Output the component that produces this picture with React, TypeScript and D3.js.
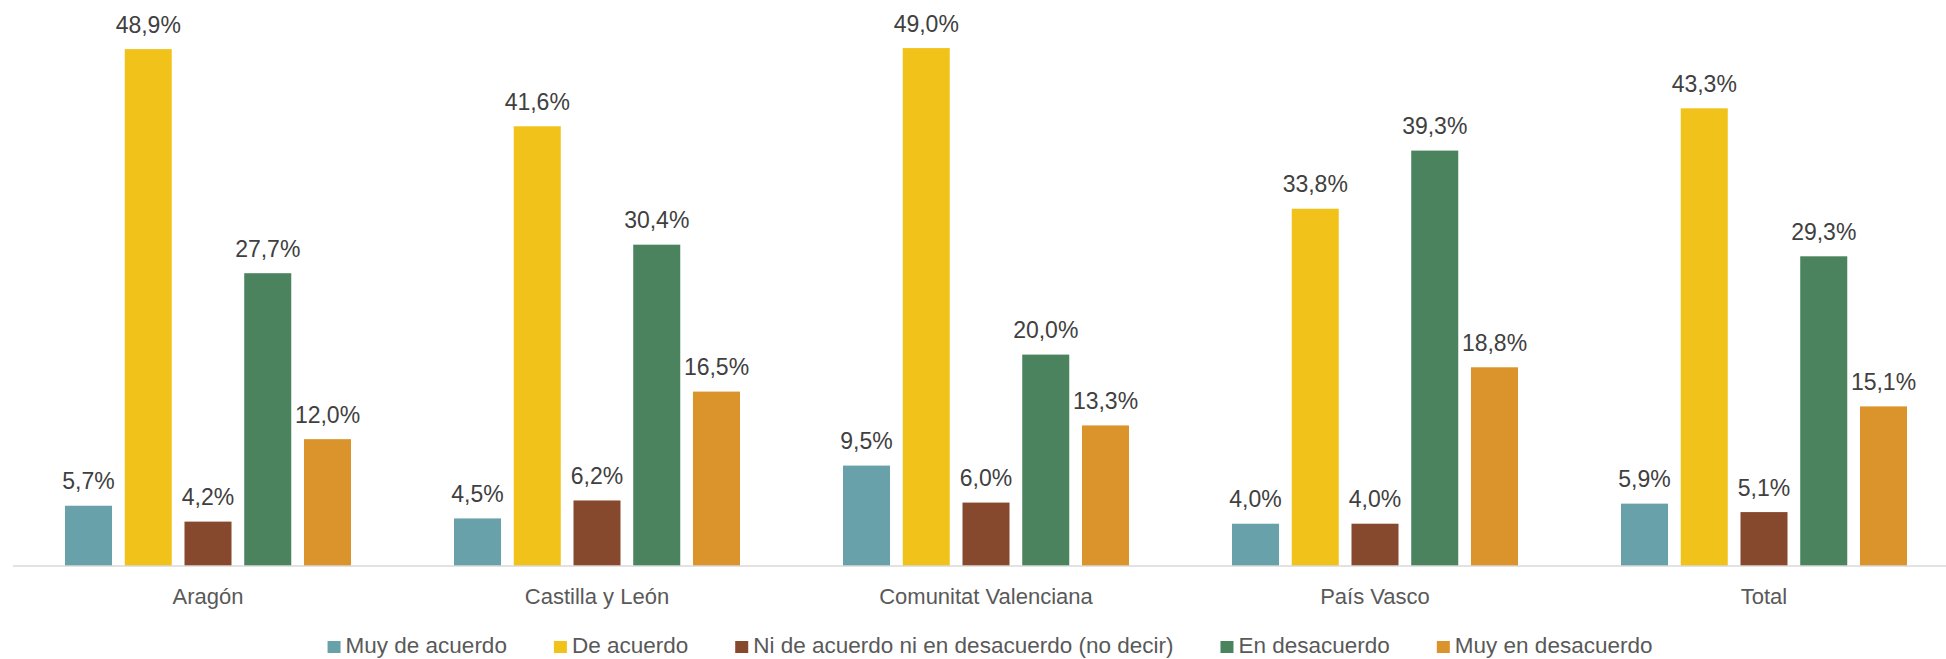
import * as React from "react";
import * as d3 from "d3";

const categories = ["Aragón", "Castilla y León", "Comunitat Valenciana", "País Vasco", "Total"];
const seriesNames = [
  "Muy de acuerdo",
  "De acuerdo",
  "Ni de acuerdo ni en desacuerdo (no decir)",
  "En desacuerdo",
  "Muy en desacuerdo",
];
const seriesColors = ["#68A1A9", "#F1C31A", "#87492D", "#4A835E", "#DB942B"];

const muyDeAcuerdo = [5.7, 4.5, 9.5, 4.0, 5.9];
const deAcuerdo = [48.9, 41.6, 49.0, 33.8, 43.3];
const niNi = [4.2, 6.2, 6.0, 4.0, 5.1];
const enDesacuerdo = [27.7, 30.4, 20.0, 39.3, 29.3];
const muyEnDesacuerdo = [12.0, 16.5, 13.3, 18.8, 15.1];

const seriesValues = [muyDeAcuerdo, deAcuerdo, niNi, enDesacuerdo, muyEnDesacuerdo];

const width = 1946;
const height = 659;
const font = "'Liberation Sans', Arial, sans-serif";

function textWidth(text: string, size: number) {
  const canvas = document.createElement("canvas");
  const ctx = canvas.getContext("2d");
  if (!ctx) return text.length * size * 0.5;
  ctx.font = `${size}px 'Liberation Sans', Arial, sans-serif`;
  return ctx.measureText(text).width;
}

export default function App() {
  const baseline = 566;
  const x = d3.scaleBand<string>().domain(categories).range([13.5, 1958.5]);
  const groupWidth = 286;
  const inner = d3
    .scaleBand<string>()
    .domain(seriesNames)
    .range([0, groupWidth])
    .paddingInner(0.213);
  const y = d3.scaleLinear().domain([0, 50]).range([baseline, baseline - 528.5]);

  const fmt = (v: number) => d3.format(".1f")(v).replace(".", ",") + "%";

  // legend layout
  const legendSize = 22.5;
  const sq = 13;
  const items = seriesNames.map((name) => sq + 5 + textWidth(name, legendSize));
  const gap = 47;
  const total = d3.sum(items) + gap * (items.length - 1);
  let lx = 990 - total / 2;
  const legendX = items.map((w) => {
    const p = lx;
    lx += w + gap;
    return p;
  });

  return (
    <svg
      width={width}
      height={height}
      style={{ position: "absolute", left: 0, top: 0, background: "#fff" }}
      fontFamily={font}
    >
      <rect width={width} height={height} fill="#fff" />
      {categories.map((cat, ci) => {
        const gx = (x(cat) ?? 0) + (x.bandwidth() - groupWidth) / 2;
        return (
          <g key={cat} transform={`translate(${gx},0)`}>
            {seriesNames.map((s, si) => {
              const v = seriesValues[si][ci];
              const bx = inner(s) ?? 0;
              return (
                <g key={s}>
                  <rect
                    x={bx}
                    y={y(v)}
                    width={inner.bandwidth()}
                    height={baseline - y(v)}
                    fill={seriesColors[si]}
                  />
                  <text
                    x={bx + inner.bandwidth() / 2}
                    y={y(v) - 16.5}
                    textAnchor="middle"
                    fontSize={23}
                    fill="#404040"
                  >
                    {fmt(v)}
                  </text>
                </g>
              );
            })}
          </g>
        );
      })}
      <line x1={13} x2={width} y1={baseline} y2={baseline} stroke="#d9d9d9" strokeWidth={1.5} />
      {categories.map((cat) => (
        <text
          key={cat}
          x={(x(cat) ?? 0) + x.bandwidth() / 2}
          y={604}
          textAnchor="middle"
          fontSize={22}
          fill="#595959"
        >
          {cat}
        </text>
      ))}
      {seriesNames.map((name, i) => (
        <g key={name} transform={`translate(${legendX[i]},0)`}>
          <rect x={0} y={641} width={sq} height={12} fill={seriesColors[i]} />
          <text x={sq + 5} y={653} fontSize={legendSize} fill="#595959">
            {name}
          </text>
        </g>
      ))}
    </svg>
  );
}
